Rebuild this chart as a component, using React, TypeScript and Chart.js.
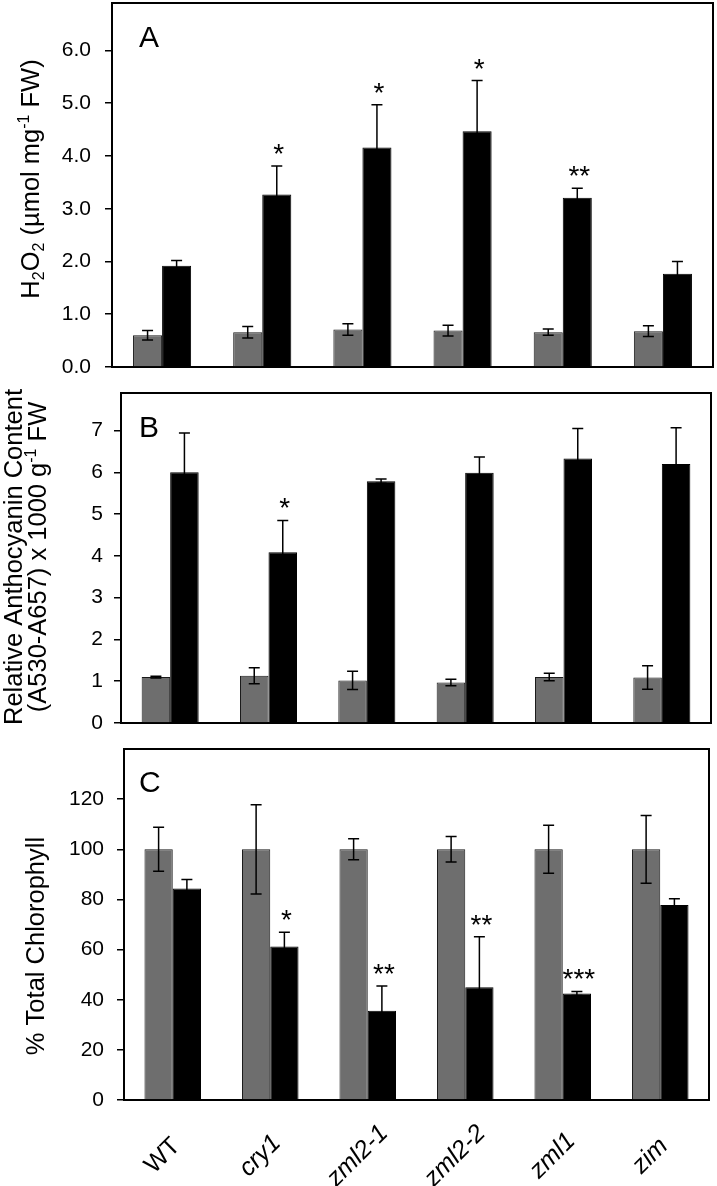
import React, { useEffect, useRef } from "react";
import { Chart, registerables } from "chart.js";

Chart.register(...registerables);

const FAMILY = '"Liberation Sans", Arial, Helvetica, sans-serif';

// ---------- data ----------
const categories = ["WT", "cry1", "zml2-1", "zml2-2", "zml1", "zim"];
const italicCategory = [false, true, true, true, true, true];

// Panel A – H2O2 (µmol mg-1 FW)
const h2o2Control = [0.6, 0.66, 0.71, 0.69, 0.66, 0.68];
const h2o2ControlErr = [0.09, 0.11, 0.11, 0.1, 0.06, 0.1];
const h2o2Treated = [1.92, 3.27, 4.16, 4.47, 3.21, 1.77];
const h2o2TreatedErr = [0.1, 0.54, 0.81, 0.96, 0.18, 0.23];
const h2o2Stars = ["", "*", "*", "*", "**", ""];

// Panel B – relative anthocyanin content
const anthoControl = [1.1, 1.13, 1.02, 0.97, 1.1, 1.09];
const anthoControlErr = [0.02, 0.19, 0.22, 0.08, 0.09, 0.28];
const anthoTreated = [6.0, 4.09, 5.79, 5.99, 6.33, 6.2];
const anthoTreatedErr = [0.94, 0.76, 0.05, 0.38, 0.72, 0.87];
const anthoStars = ["", "*", "", "", "", ""];

// Panel C – % total chlorophyll
const chlControl = [100, 100, 100, 100, 100, 100];
const chlControlErr = [8.8, 17.8, 4.2, 5.1, 9.6, 13.5];
const chlTreated = [84.4, 61.2, 35.6, 45.0, 42.5, 77.8];
const chlTreatedErr = [3.5, 5.7, 9.9, 20.1, 0.8, 2.5];
const chlStars = ["", "*", "**", "**", "***", ""];

type Seg = { t: string; k?: "sub" | "sup" };

interface PanelSpec {
  letter: string;
  control: number[];
  controlErr: number[];
  treated: number[];
  treatedErr: number[];
  stars: string[];
  yMax: number;
  yStep: number;
  yLabelMax: number;
  decimals: number;
  tickPad: number;
  titleLines: Seg[][];
  titleX: number[];
  titleCY: number;
  top: number;
  height: number;
  area: { top: number; bottom: number; left: number; right: number };
  showX: boolean;
  letterBaseline: number;
}

const W = 717;

const panels: PanelSpec[] = [
  {
    letter: "A",
    control: h2o2Control,
    controlErr: h2o2ControlErr,
    treated: h2o2Treated,
    treatedErr: h2o2TreatedErr,
    stars: h2o2Stars,
    yMax: 6.9,
    yStep: 1,
    yLabelMax: 6,
    decimals: 1,
    tickPad: 14,
    titleLines: [
      [
        { t: "H" },
        { t: "2", k: "sub" },
        { t: "O" },
        { t: "2", k: "sub" },
        { t: " (µmol mg" },
        { t: "-1", k: "sup" },
        { t: " FW)" },
      ],
    ],
    titleX: [32],
    titleCY: 179,
    top: 0,
    height: 380,
    area: { top: 3, bottom: 367, left: 112, right: 713 },
    showX: false,
    letterBaseline: 47,
  },
  {
    letter: "B",
    control: anthoControl,
    controlErr: anthoControlErr,
    treated: anthoTreated,
    treatedErr: anthoTreatedErr,
    stars: anthoStars,
    yMax: 7.9,
    yStep: 1,
    yLabelMax: 7,
    decimals: 0,
    tickPad: 11,
    titleLines: [
      [{ t: "Relative Anthocyanin Content" }],
      [{ t: "(A530-A657) x 1000 g" }, { t: "-1", k: "sup" }, { t: " FW" }],
    ],
    titleX: [15, 39],
    titleCY: 557,
    top: 380,
    height: 356,
    area: { top: 393, bottom: 723, left: 121, right: 711 },
    showX: false,
    letterBaseline: 437,
  },
  {
    letter: "C",
    control: chlControl,
    controlErr: chlControlErr,
    treated: chlTreated,
    treatedErr: chlTreatedErr,
    stars: chlStars,
    yMax: 140,
    yStep: 20,
    yLabelMax: 120,
    decimals: 0,
    tickPad: 13,
    titleLines: [[{ t: "% Total Chlorophyll" }]],
    titleX: [37],
    titleCY: 946,
    top: 736,
    height: 450,
    area: { top: 749, bottom: 1100, left: 124, right: 709 },
    showX: true,
    letterBaseline: 792,
  },
];

function drawRich(ctx: CanvasRenderingContext2D, segs: Seg[], cx: number, cy: number, size: number) {
  const fontN = `${size}px ${FAMILY}`;
  const fontS = `${Math.round(size * 0.62)}px ${FAMILY}`;
  const widths = segs.map((s) => {
    ctx.font = s.k ? fontS : fontN;
    return ctx.measureText(s.t).width;
  });
  const total = widths.reduce((a, b) => a + b, 0);
  ctx.save();
  ctx.translate(cx, cy);
  ctx.rotate(-Math.PI / 2);
  ctx.textBaseline = "middle";
  ctx.textAlign = "left";
  ctx.fillStyle = "#000";
  let x = -total / 2;
  segs.forEach((s, i) => {
    ctx.font = s.k ? fontS : fontN;
    const dy = s.k === "sub" ? size * 0.3 : s.k === "sup" ? -size * 0.3 : 0;
    ctx.fillText(s.t, x, dy);
    x += widths[i];
  });
  ctx.restore();
}

function makePlugin(spec: PanelSpec) {
  return {
    id: "decor" + spec.letter,
    afterDatasetsDraw(chart: any) {
      const ctx: CanvasRenderingContext2D = chart.ctx;
      const y = chart.scales.y;
      const errs = [spec.controlErr, spec.treatedErr];
      const vals = [spec.control, spec.treated];
      ctx.save();
      ctx.strokeStyle = "#000";
      ctx.lineWidth = 1.5;
      for (let d = 0; d < 2; d++) {
        const meta = chart.getDatasetMeta(d);
        meta.data.forEach((el: any, i: number) => {
          const v = vals[d][i];
          const e = errs[d][i];
          const yt = y.getPixelForValue(v + e);
          const yb = y.getPixelForValue(v - e);
          const x = el.x;
          const cap = 5.5;
          ctx.beginPath();
          ctx.moveTo(x, yt);
          ctx.lineTo(x, yb);
          ctx.moveTo(x - cap, yt);
          ctx.lineTo(x + cap, yt);
          ctx.moveTo(x - cap, yb);
          ctx.lineTo(x + cap, yb);
          ctx.stroke();
        });
      }
      // significance stars
      const meta1 = chart.getDatasetMeta(1);
      ctx.fillStyle = "#000";
      ctx.font = `28px ${FAMILY}`;
      ctx.textAlign = "center";
      ctx.textBaseline = "alphabetic";
      meta1.data.forEach((el: any, i: number) => {
        const s = spec.stars[i];
        if (!s) return;
        const yt = y.getPixelForValue(spec.treated[i] + spec.treatedErr[i]);
        ctx.fillText(s, el.x + 2, yt - 3);
      });
      ctx.restore();
    },
    afterDraw(chart: any) {
      const ctx: CanvasRenderingContext2D = chart.ctx;
      const a = chart.chartArea;
      ctx.save();
      ctx.strokeStyle = "#000";
      ctx.lineWidth = 2;
      ctx.beginPath();
      ctx.moveTo(a.left, a.top);
      ctx.lineTo(a.right, a.top);
      ctx.lineTo(a.right, a.bottom);
      ctx.stroke();
      // panel letter
      ctx.fillStyle = "#000";
      ctx.font = `30px ${FAMILY}`;
      ctx.textAlign = "left";
      ctx.textBaseline = "alphabetic";
      ctx.fillText(spec.letter, 139, spec.letterBaseline - spec.top);
      // category labels (rotated, centred under each category)
      if (spec.showX) {
        const xs = chart.scales.x;
        categories.forEach((lab, i) => {
          const px = xs.getPixelForTick(i);
          ctx.save();
          ctx.translate(px - 10, a.bottom + 56);
          ctx.rotate(-Math.PI / 4);
          ctx.font = `${italicCategory[i] ? "italic " : ""}25px ${FAMILY}`;
          ctx.textAlign = "center";
          ctx.textBaseline = "middle";
          ctx.fillText(lab, 0, 0);
          ctx.restore();
        });
      }
      ctx.restore();
      // axis title
      spec.titleLines.forEach((line, li) => {
        drawRich(ctx, line, spec.titleX[li], spec.titleCY - spec.top, 25.5);
      });
    },
  };
}

function Panel({ spec }: { spec: PanelSpec }) {
  const ref = useRef<HTMLCanvasElement | null>(null);
  useEffect(() => {
    const canvas = ref.current;
    if (!canvas) return;
    const a = spec.area;
    const xHeight = spec.top + spec.height - a.bottom;
    const chart = new Chart(canvas, {
      type: "bar",
      data: {
        labels: categories,
        datasets: [
          {
            data: spec.control,
            backgroundColor: "#6e6e6e",
            borderColor: "#1a1a1a",
            borderWidth: 1,
            categoryPercentage: 0.58,
            barPercentage: 1,
          },
          {
            data: spec.treated,
            backgroundColor: "#000000",
            borderColor: "#000000",
            borderWidth: 1,
            categoryPercentage: 0.58,
            barPercentage: 1,
          },
        ],
      },
      options: {
        responsive: false,
        animation: false,
        devicePixelRatio: 1,
        layout: { padding: { top: a.top - spec.top, right: W - a.right, left: 0, bottom: 0 } },
        plugins: { legend: { display: false }, tooltip: { enabled: false } },
        scales: {
          x: {
            grid: { display: false },
            border: { display: true, color: "#000", width: 2 },
            ticks: { display: false },
            afterFit: (s: any) => {
              s.height = xHeight;
              s.paddingLeft = 0;
              s.paddingRight = 0;
              s.paddingTop = 0;
              s.paddingBottom = 0;
            },
          },
          y: {
            min: 0,
            max: spec.yMax,
            grid: {
              drawOnChartArea: false,
              drawTicks: true,
              tickLength: 7,
              color: "#000",
              lineWidth: 1.5,
            },
            border: { display: true, color: "#000", width: 2 },
            ticks: {
              stepSize: spec.yStep,
              padding: spec.tickPad,
              color: "#000",
              font: { family: FAMILY, size: 21 },
              callback: (v: any) => Number(v).toFixed(spec.decimals),
            },
            afterBuildTicks: (s: any) => {
              s.ticks = s.ticks.filter((t: any) => t.value <= spec.yLabelMax + 1e-9);
            },
            afterFit: (s: any) => {
              s.width = a.left;
              s.paddingTop = 0;
              s.paddingBottom = 0;
            },
          },
        },
      } as any,
      plugins: [makePlugin(spec)],
    });
    return () => chart.destroy();
  }, [spec]);
  return (
    <canvas
      ref={ref}
      width={W}
      height={spec.height}
      style={{ position: "absolute", left: 0, top: spec.top, width: W, height: spec.height }}
    />
  );
}

export default function App() {
  return (
    <div style={{ position: "absolute", left: 0, top: 0, width: W, height: 1186, background: "#fff" }}>
      {panels.map((p) => (
        <Panel key={p.letter} spec={p} />
      ))}
    </div>
  );
}
